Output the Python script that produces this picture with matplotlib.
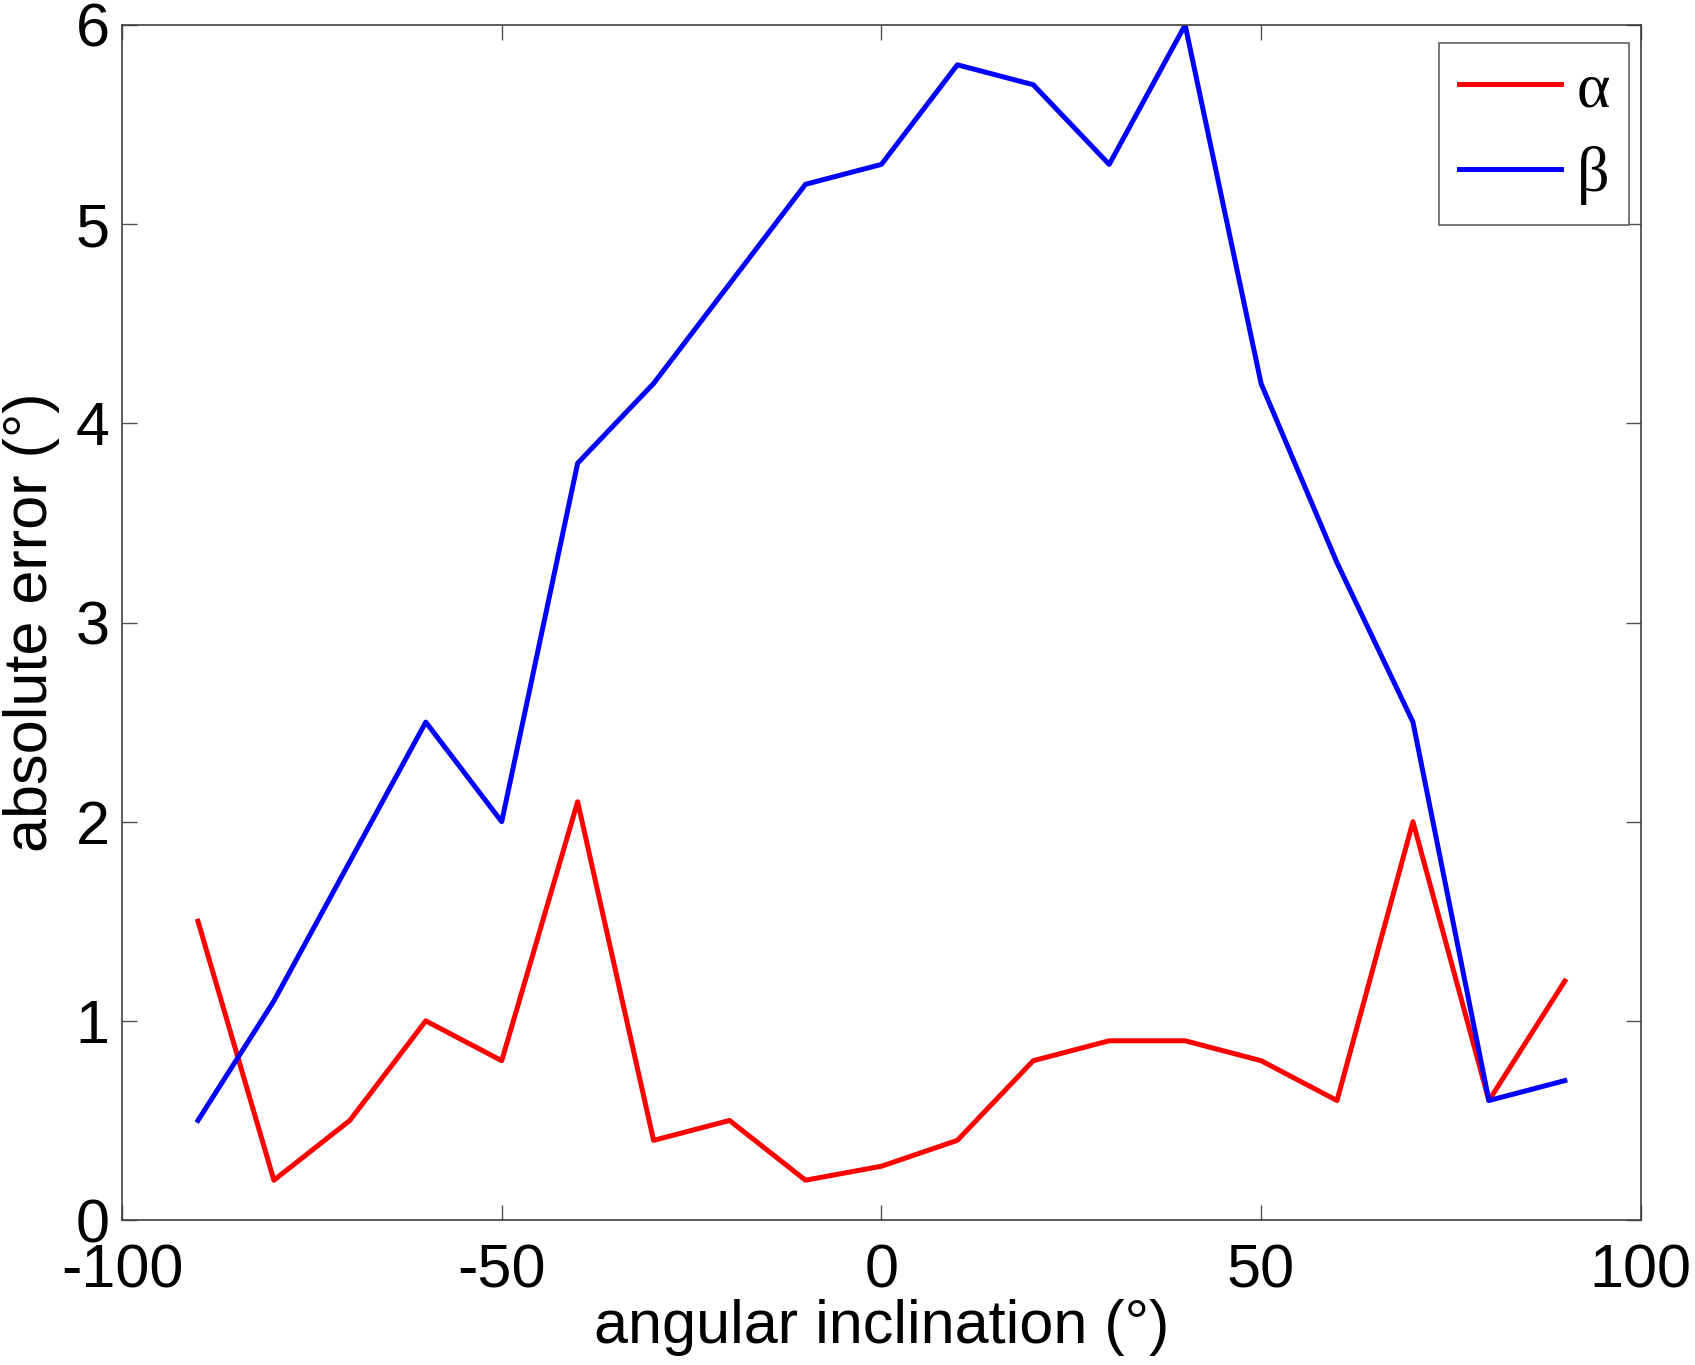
import matplotlib
matplotlib.use("Agg")
import matplotlib.pyplot as plt
import numpy as np

# angular inclination (deg)
angles = [-90, -80, -70, -60, -50, -40, -30, -20, -10, 0, 10, 20, 30, 40, 50, 60, 70, 80, 90]
# absolute errors
err_alpha = [1.5, 0.2, 0.5, 1.0, 0.8, 2.1, 0.4, 0.5, 0.2, 0.27, 0.4, 0.8, 0.9, 0.9, 0.8, 0.6, 2.0, 0.6, 1.2]
err_beta = [0.5, 1.1, 1.8, 2.5, 2.0, 3.8, 4.2, 4.7, 5.2, 5.3, 5.8, 5.7, 5.3, 6.0, 4.2, 3.3, 2.5, 0.6, 0.7]
xticks = [-100, -50, 0, 50, 100]
yticks = [0, 1, 2, 3, 4, 5, 6]

plt.rcParams['font.family'] = ['Liberation Sans', 'DejaVu Sans']
plt.rcParams['axes.unicode_minus'] = False

fig = plt.figure(figsize=(16.95, 13.65), dpi=100)
ax = fig.add_axes([0.072, 0.1062, 0.896, 0.8755])

ax.plot(angles, err_alpha, color='red', linewidth=3.6, label='α')
ax.plot(angles, err_beta, color='blue', linewidth=3.6, label='β')

ax.set_xlim(-100, 100)
ax.set_ylim(0, 6)
ax.set_xticks(xticks)
ax.set_yticks(yticks)
ax.tick_params(direction='in', length=11, width=1, colors='#505050', labelcolor='black',
               labelsize=44, top=True, right=True)
ax.tick_params(axis='x', pad=17)
ax.tick_params(axis='y', pad=9)
for s in ax.spines.values():
    s.set_color('#404040')
    s.set_linewidth(1.2)

ax.set_xlabel('angular inclination (°)', fontsize=44, labelpad=-1)
ax.set_ylabel('absolute error (°)', fontsize=44, labelpad=11)

# legend, greek letters in a serif face
leg = ax.legend(loc='upper right', bbox_to_anchor=(0.9925, 0.985),
                prop={'family': 'Liberation Serif', 'size': 46},
                handlelength=1.6, handletextpad=0.25, labelspacing=0.4,
                borderpad=0.3, borderaxespad=0, fancybox=False, framealpha=1)
leg.get_frame().set_edgecolor('#606060')
leg.get_frame().set_linewidth(1.2)

fig.savefig('out.png', dpi=100)
